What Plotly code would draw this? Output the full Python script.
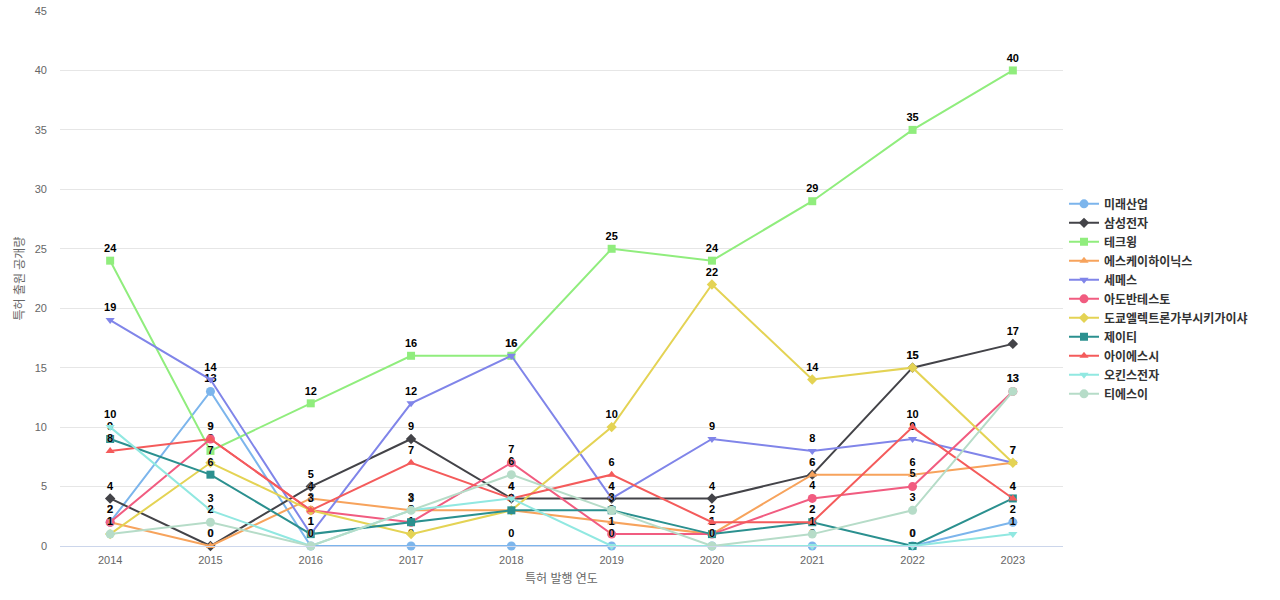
import plotly.graph_objects as go

years = ["2014", "2015", "2016", "2017", "2018", "2019", "2020", "2021", "2022", "2023"]

mirae = [2, 13, 0, 0, 0, 0, 0, 0, 0, 2]
samsung = [4, 0, 5, 9, 4, 4, 4, 6, 15, 17]
techwing = [24, 8, 12, 16, 16, 25, 24, 29, 35, 40]
skhynix = [2, 0, 4, 3, 3, 2, 1, 6, 6, 7]
semes = [19, 14, 1, 12, 16, 4, 9, 8, 9, 7]
advantest = [2, 9, 3, 2, 7, 1, 1, 4, 5, 13]
tel = [1, 7, 3, 1, 3, 10, 22, 14, 15, 7]
jt = [9, 6, 1, 2, 3, 3, 1, 2, 0, 4]
isc = [8, 9, 3, 7, 4, 6, 2, 2, 10, 4]
okins = [10, 3, 0, 3, 4, 0, 0, 0, 0, 1]
tse = [1, 2, 0, 3, 6, 3, 0, 1, 3, 13]

series = [
    ("미래산업", mirae, "#7cb5ec", "circle"),
    ("삼성전자", samsung, "#434348", "diamond"),
    ("테크윙", techwing, "#90ed7d", "square"),
    ("에스케이하이닉스", skhynix, "#f7a35c", "triangle-up"),
    ("세메스", semes, "#8085e9", "triangle-down"),
    ("아도반테스토", advantest, "#f15c80", "circle"),
    ("도쿄엘렉트론가부시키가이샤", tel, "#e4d354", "diamond"),
    ("제이티", jt, "#2b908f", "square"),
    ("아이에스시", isc, "#f45b5b", "triangle-up"),
    ("오킨스전자", okins, "#91e8e1", "triangle-down"),
    ("티에스이", tse, "#b6dcc8", "circle"),
]

FONT = "Liberation Sans, Arial, Noto Sans CJK KR, sans-serif"

fig = go.Figure()
for name, vals, color, symbol in series:
    fig.add_trace(
        go.Scatter(
            x=years,
            y=vals,
            name=name,
            mode="lines+markers+text",
            line={"color": color, "width": 2},
            marker={"color": color, "symbol": symbol, "size": 8 if symbol != "circle" else 9},
            text=[str(v) for v in vals],
            textposition="top center",
            textfont={"family": FONT, "size": 11, "color": "#000000", "weight": "bold",
                      "shadow": "0px 0px 1px #ffffff"},
            cliponaxis=False,
        )
    )

# axis titles as annotations so the plot area stays where it is
fig.add_annotation(text="특허 발행 연도", xref="paper", yref="paper", x=0.5, y=0,
                   yshift=-32, showarrow=False, yanchor="middle",
                   font={"family": FONT, "size": 12, "color": "#666666"})
fig.add_annotation(text="특허 출원 공개량", xref="paper", yref="paper", x=0, y=0.5,
                   xshift=-41, showarrow=False, textangle=-90, xanchor="center",
                   font={"family": FONT, "size": 12, "color": "#666666"})

fig.update_layout(
    width=1280,
    height=600,
    paper_bgcolor="white",
    plot_bgcolor="white",
    margin={"l": 60, "r": 217, "t": 11, "b": 54},
    font={"family": FONT, "size": 11, "color": "#666666"},
    showlegend=True,
    legend={
        "x": 1.001,
        "xanchor": "left",
        "y": 0.462,
        "yanchor": "middle",
        "font": {"family": FONT, "size": 12, "color": "#333333", "weight": "bold"},
        "itemwidth": 30,
        "tracegroupgap": 0,
    },
    xaxis={
        "type": "category",
        "range": [-0.5, 9.5],
        "automargin": False,
        "showgrid": False,
        "showline": True,
        "linecolor": "#ccd6eb",
        "linewidth": 1,
        "ticks": "",
        "tickfont": {"size": 11, "color": "#666666"},
        "ticklabelstandoff": 4,
        "zeroline": False,
    },
    yaxis={
        "range": [0, 45],
        "dtick": 5,
        "automargin": False,
        "ticklabeloverflow": "allow",
        "showgrid": True,
        "gridcolor": "#e6e6e6",
        "zeroline": False,
        "showline": False,
        "ticks": "",
        "tickfont": {"size": 11, "color": "#666666"},
        "ticklabelstandoff": 12,
    },
)

# drop the default body margin so the figure sits at the page corner
fig.write_html(
    "out.html",
    config={"displayModeBar": False},
    post_script="document.body.style.margin = '0';",
)
